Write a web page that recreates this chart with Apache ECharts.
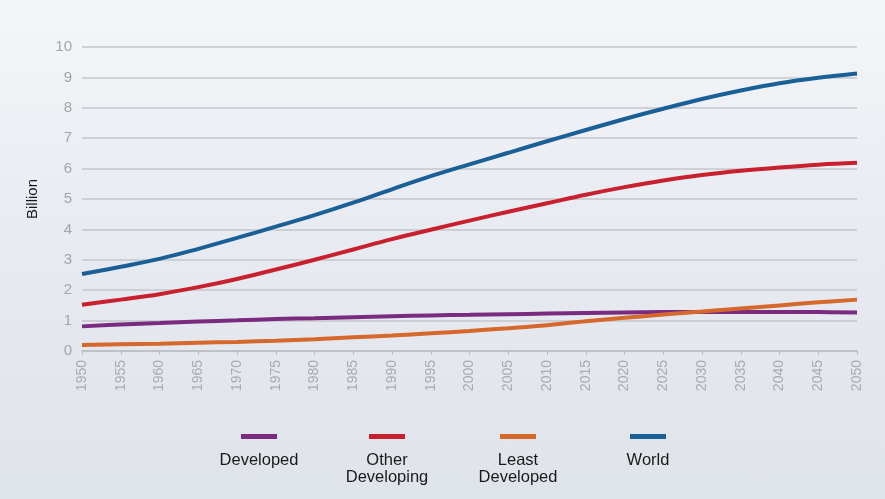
<!DOCTYPE html>
<html><head><meta charset="utf-8">
<script src="https://cdn.jsdelivr.net/npm/echarts@6/dist/echarts.min.js"></script>
<style>
html,body{margin:0;padding:0;width:885px;height:499px;overflow:hidden;
background:linear-gradient(to bottom,#f5f6f9 0%,#e9ecf2 40%,#dfe3ea 100%);}
#c{width:885px;height:499px;}
</style></head><body><div id="c"></div>
<script>
const years = ['1950','1955','1960','1965','1970','1975','1980','1985','1990','1995','2000','2005','2010','2015','2020','2025','2030','2035','2040','2045','2050'];
const developed = [0.81,0.87,0.92,0.97,1.01,1.05,1.08,1.11,1.14,1.17,1.19,1.21,1.23,1.25,1.27,1.28,1.28,1.28,1.28,1.28,1.27];
const otherDeveloping = [1.52,1.69,1.87,2.10,2.37,2.68,3.00,3.34,3.68,3.99,4.29,4.58,4.86,5.14,5.39,5.61,5.79,5.93,6.04,6.13,6.19];
const leastDeveloped = [0.20,0.22,0.24,0.27,0.30,0.34,0.39,0.45,0.51,0.58,0.66,0.75,0.85,0.98,1.09,1.20,1.30,1.40,1.50,1.60,1.69];
const world = [2.53,2.77,3.03,3.36,3.72,4.09,4.47,4.88,5.32,5.75,6.14,6.52,6.90,7.27,7.63,7.97,8.29,8.57,8.81,8.99,9.13];
const seriesNames = ['Developed','Other\nDeveloping','Least\nDeveloped','World'];
const colors = ['#7a2a7f','#c9202f','#d5682a','#1b5f97'];

const chart = echarts.init(document.getElementById('c'), null, {renderer:'canvas'});
const dataSets = [developed, otherDeveloping, leastDeveloped, world];
const legendX = [259, 387, 518, 648];
const graphics = [];
seriesNames.forEach((n,i)=>{
  graphics.push({type:'rect', shape:{x:legendX[i]-18, y:434, width:36, height:5}, style:{fill:colors[i]}});
  graphics.push({type:'text', x:legendX[i], y:452, style:{text:n, fill:'#1a1a1a', font:'16.5px "Liberation Sans", Arial, sans-serif', align:'center', verticalAlign:'top', lineHeight:17}});
});
chart.setOption({
  backgroundColor:'transparent',
  animation:false,
  grid:{left:82, right:28, top:47, bottom:148},
  xAxis:{type:'category', data:years, boundaryGap:false,
    axisLine:{lineStyle:{color:'#b9bcc1', width:1.5}},
    axisTick:{show:true, length:4, lineStyle:{color:'#b9bcc1'}},
    axisLabel:{rotate:90, color:'#a9abaf', fontSize:14, fontFamily:'"Liberation Sans", Arial, sans-serif', margin:9},
    splitLine:{show:false}},
  yAxis:{type:'value', min:0, max:10, interval:1,
    name:'Billion', nameLocation:'middle', nameGap:42, nameRotate:90,
    nameTextStyle:{color:'#1a1a1a', fontSize:15, fontFamily:'"Liberation Sans", Arial, sans-serif'},
    axisLine:{show:false}, axisTick:{show:false},
    axisLabel:{color:'#a3a5a9', fontSize:15, fontFamily:'"Liberation Sans", Arial, sans-serif', margin:10},
    splitLine:{lineStyle:{color:'#c3c6cb', width:1.5}}},
  series: dataSets.map((d,i)=>({name:seriesNames[i], type:'line', data:d, smooth:0.4, symbol:'none',
    lineStyle:{color:colors[i], width:4}, z: 3+i})),
  graphic: graphics
});
</script></body></html>
